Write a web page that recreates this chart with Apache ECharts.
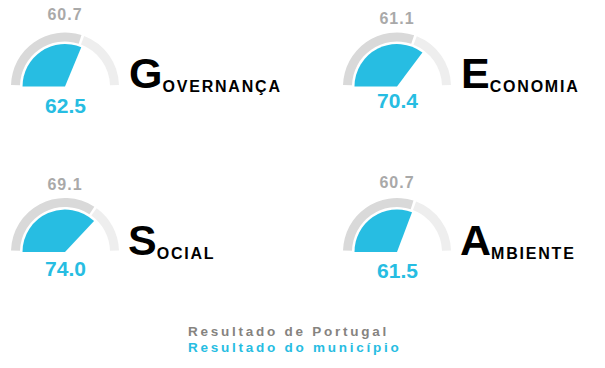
<!DOCTYPE html>
<html><head><meta charset="utf-8">
<script src="https://cdn.jsdelivr.net/npm/echarts@6/dist/echarts.min.js"></script>
<style>html,body{margin:0;padding:0;background:#fff}#c{width:605px;height:368px}</style>
</head><body><div id="c"></div>
<script>
// ---- data ----
const categories = ['Governança', 'Economia', 'Social', 'Ambiente'];
const portugalValues = [60.7, 61.1, 69.1, 60.7];
const municipioValues = [62.5, 70.4, 74.0, 61.5];
const scaleMax = 100;
const legendLabels = ['Resultado de Portugal', 'Resultado do município'];

// ---- styles / layout ----
const FONT = '"Liberation Sans", Arial, sans-serif';
const BLUE = '#27bde2', RING = '#d9d9d9', RING_LIGHT = '#eeeeee', GREY_TXT = '#a9a9a9', LEG_GREY = '#86837f';
const layout = [
  {cx: 65, cy: 86.5, gy: 14.7, by: 105.5, tx: 129, ty: 94},
  {cx: 397, cy: 86.5, gy: 18.5, by: 100, tx: 461, ty: 94},
  {cx: 65, cy: 252, gy: 184.7, by: 268.8, tx: 128, ty: 261},
  {cx: 397, cy: 252, gy: 182, by: 270, tx: 460, ty: 261}
];

const series = [];
const graphic = [];
categories.forEach((name, i) => {
  const L = layout[i];
  const pt = portugalValues[i], mu = municipioValues[i];
  series.push({
    type: 'pie', name: name + ' Portugal', center: [L.cx, L.cy], radius: [45, 54],
    startAngle: 180, clockwise: true, padAngle: 3, silent: true, animation: false,
    label: {show: false}, labelLine: {show: false}, emphasis: {disabled: true},
    data: [
      {value: pt, itemStyle: {color: RING}},
      {value: scaleMax - pt, itemStyle: {color: RING_LIGHT}},
      {value: scaleMax, itemStyle: {color: 'rgba(0,0,0,0)'}}
    ]
  });
  series.push({
    type: 'pie', name: name + ' Município', center: [L.cx, L.cy], radius: [0, 42.5],
    startAngle: 180, clockwise: true, silent: true, animation: false,
    label: {show: false}, labelLine: {show: false}, emphasis: {disabled: true},
    data: [
      {value: mu, itemStyle: {color: BLUE}},
      {value: scaleMax - mu, itemStyle: {color: 'rgba(0,0,0,0)'}},
      {value: scaleMax, itemStyle: {color: 'rgba(0,0,0,0)'}}
    ]
  });
  graphic.push({
    type: 'text', x: L.cx, y: L.gy, silent: true,
    style: {text: pt.toFixed(1), fill: GREY_TXT, font: 'bold 16px ' + FONT, align: 'center', verticalAlign: 'middle'}
  });
  graphic.push({
    type: 'text', x: L.cx + 0.5, y: L.by, silent: true,
    style: {text: mu.toFixed(1), fill: BLUE, font: 'bold 21px ' + FONT, align: 'center', verticalAlign: 'middle'}
  });
  const up = name.toUpperCase();
  graphic.push({
    type: 'text', x: L.tx, y: L.ty, silent: true,
    style: {
      text: '{a|' + up.charAt(0) + '}{b|' + up.slice(1) + '}',
      align: 'left', verticalAlign: 'bottom',
      rich: {
        a: {fontSize: 43, fontWeight: 'bold', fontFamily: FONT, fill: '#000', lineHeight: 43, verticalAlign: 'bottom'},
        b: {fontSize: 16, fontWeight: 'bold', fontFamily: FONT, fill: '#000', lineHeight: 16, verticalAlign: 'bottom'}
      }
    }
  });
});
graphic.push({
  type: 'text', x: 188, y: 331, silent: true,
  style: {text: legendLabels[0], fill: LEG_GREY, font: 'bold 13.5px ' + FONT, align: 'left', verticalAlign: 'middle'}
});
graphic.push({
  type: 'text', x: 188, y: 347, silent: true,
  style: {text: legendLabels[1], fill: BLUE, font: 'bold 13.5px ' + FONT, align: 'left', verticalAlign: 'middle'}
});

const el = document.getElementById('c');
const chart = echarts.init(el, null, {renderer: 'svg'});
chart.setOption({animation: false, backgroundColor: '#fff', series: series, graphic: graphic});

// letter spacing (applied to the rendered SVG text)
const spacing = new Map();
legendLabels.forEach(t => spacing.set(t, '2.75px'));
categories.forEach(c => spacing.set(c.toUpperCase().slice(1), '1.8px'));
portugalValues.forEach(v => spacing.set(v.toFixed(1), '1px'));
function applySpacing() {
  el.querySelectorAll('text').forEach(t => {
    const s = spacing.get(t.textContent);
    if (s) t.style.letterSpacing = s;
  });
}
chart.getZr().refreshImmediately();
applySpacing();
chart.on('finished', applySpacing);
setTimeout(applySpacing, 50);
</script></body></html>
